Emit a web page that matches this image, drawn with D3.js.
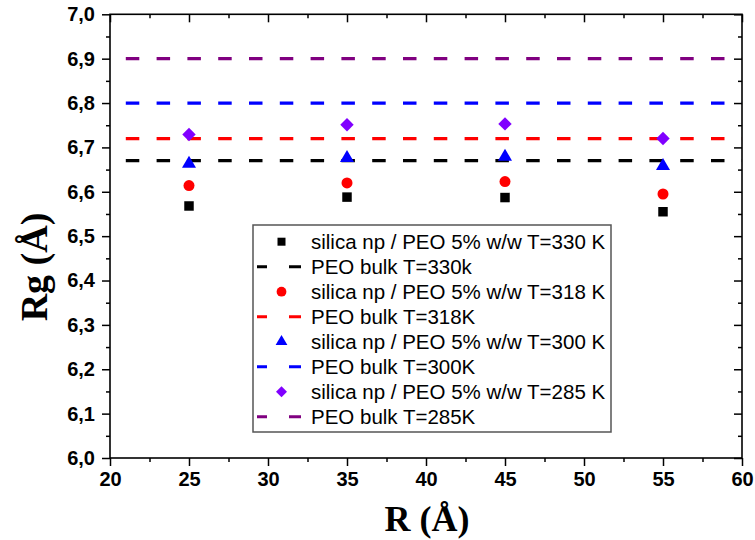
<!DOCTYPE html>
<html><head><meta charset="utf-8">
<script src="https://cdn.jsdelivr.net/npm/d3@7/dist/d3.min.js"></script>
<style>body{margin:0;background:#fff}svg{display:block}</style>
</head><body>
<svg id="c" width="755" height="540"></svg>
<script>
// ---- data ----
const radii = [25, 35, 45, 55];
const rg330 = [6.568, 6.588, 6.587, 6.555];
const rg318 = [6.614, 6.620, 6.623, 6.595];
const rg300 = [6.663, 6.676, 6.679, 6.658];
const rg285 = [6.729, 6.751, 6.753, 6.720];
const bulkValues = [6.67, 6.72, 6.80, 6.90];
const bulkStart = 21;
const bulkEnd = 60;
const seriesLabels = ["silica np / PEO 5% w/w T=330 K", "silica np / PEO 5% w/w T=318 K",
                      "silica np / PEO 5% w/w T=300 K", "silica np / PEO 5% w/w T=285 K"];
const bulkLabels = ["PEO bulk T=330k", "PEO bulk T=318K", "PEO bulk T=300K", "PEO bulk T=285K"];
const xTicks = [20, 25, 30, 35, 40, 45, 50, 55, 60];
const xTickLabels = ["20", "25", "30", "35", "40", "45", "50", "55", "60"];
const xMinor = [22.5, 27.5, 32.5, 37.5, 42.5, 47.5, 52.5, 57.5];
const yTicks = [6.0, 6.1, 6.2, 6.3, 6.4, 6.5, 6.6, 6.7, 6.8, 6.9, 7.0];
const yTickLabels = ["6,0","6,1","6,2","6,3","6,4","6,5","6,6","6,7","6,8","6,9","7,0"];
const yMinor = [6.05, 6.15, 6.25, 6.35, 6.45, 6.55, 6.65, 6.75, 6.85, 6.95];

// ---- styles ----
const markerColors = ["#000000", "#ff0000", "#0000ff", "#8000ff"];
const lineColors = ["#000000", "#ff0000", "#0000ff", "#800080"];
const markerTypes = ["square", "circle", "triangle", "diamond"];
const series = [rg330, rg318, rg300, rg285];

const svg = d3.select("#c");
const L = 110, R = 742, T = 14.3, B = 458;
const x = d3.scaleLinear().domain([20, 60]).range([L, R]);
const y = d3.scaleLinear().domain([6, 7]).range([B, T]);

function symPath(type, size) {
  const map = {square: d3.symbolSquare, circle: d3.symbolCircle, triangle: d3.symbolTriangle, diamond: d3.symbolSquare};
  return d3.symbol().type(map[type]).size(size)();
}
const symSize = {square: 90, circle: 95, triangle: 85, diamond: 90};

// bulk dashed lines
const gl = svg.append("g");
bulkValues.forEach((v, i) => {
  gl.append("line")
    .attr("x1", x(bulkStart)).attr("x2", x(bulkEnd))
    .attr("y1", y(v)).attr("y2", y(v))
    .attr("stroke", lineColors[i]).attr("stroke-width", 3.2)
    .attr("stroke-dasharray", "13.5 17.3");
});

// markers
const gm = svg.append("g");
series.forEach((vals, i) => {
  const t = markerTypes[i];
  gm.selectAll(null).data(vals).enter().append("path")
    .attr("d", symPath(t, symSize[t]))
    .attr("transform", (d, j) => `translate(${x(radii[j])},${y(d)})` + (t === "diamond" ? " rotate(45)" : ""))
    .attr("fill", markerColors[i]);
});

// axes
const axisStyle = g => {
  g.selectAll("path.domain").remove();
  g.selectAll("line").attr("stroke", "#000").attr("stroke-width", 1.5);
};
const tickFont = g => g.selectAll("text")
  .attr("font-family", "'Liberation Sans', Arial, sans-serif")
  .attr("font-weight", "bold").attr("font-size", 20).attr("fill", "#000");

svg.append("g").attr("transform", `translate(0,${B})`)
  .call(d3.axisBottom(x).tickValues(xTicks).tickFormat((d, i) => xTickLabels[i]).tickSize(8).tickPadding(6))
  .call(axisStyle).call(tickFont);
svg.append("g").attr("transform", `translate(0,${B})`)
  .call(d3.axisBottom(x).tickValues(xMinor).tickFormat("").tickSize(4)).call(axisStyle);
svg.append("g").attr("transform", `translate(0,${T})`)
  .call(d3.axisTop(x).tickValues(xTicks).tickFormat("").tickSize(-8)).call(axisStyle);
svg.append("g").attr("transform", `translate(0,${T})`)
  .call(d3.axisTop(x).tickValues(xMinor).tickFormat("").tickSize(-4)).call(axisStyle);

svg.append("g").attr("transform", `translate(${L},0)`)
  .call(d3.axisLeft(y).tickValues(yTicks).tickFormat((d, i) => yTickLabels[i]).tickSize(8).tickPadding(7))
  .call(axisStyle).call(tickFont);
svg.append("g").attr("transform", `translate(${L},0)`)
  .call(d3.axisLeft(y).tickValues(yMinor).tickFormat("").tickSize(4)).call(axisStyle);
svg.append("g").attr("transform", `translate(${R},0)`)
  .call(d3.axisRight(y).tickValues(yTicks).tickFormat("").tickSize(-8)).call(axisStyle);
svg.append("g").attr("transform", `translate(${R},0)`)
  .call(d3.axisRight(y).tickValues(yMinor).tickFormat("").tickSize(-4)).call(axisStyle);

// frame
svg.append("rect").attr("x", L).attr("y", T).attr("width", R - L).attr("height", B - T)
  .attr("fill", "none").attr("stroke", "#000").attr("stroke-width", 1.6);

// axis titles
svg.append("text").attr("x", (L + R) / 2 + 1).attr("y", 531)
  .attr("text-anchor", "middle")
  .attr("font-family", "'Liberation Serif', 'Times New Roman', serif")
  .attr("font-weight", "bold").attr("font-size", 36).text("R (Å)");
svg.append("text")
  .attr("transform", "translate(47,267) rotate(-90)")
  .attr("text-anchor", "middle")
  .attr("font-family", "'Liberation Serif', 'Times New Roman', serif")
  .attr("font-weight", "bold").attr("font-size", 38).text("Rg (Å)");

// legend
const lg = svg.append("g");
lg.append("rect").attr("x", 253).attr("y", 225).attr("width", 358).attr("height", 207)
  .attr("fill", "#fff").attr("stroke", "#555").attr("stroke-width", 1.5);
const legendItems = [];
series.forEach((s, i) => {
  legendItems.push({kind: "marker", i, label: seriesLabels[i]});
  legendItems.push({kind: "line", i, label: bulkLabels[i]});
});
const legSym = {square: 64, circle: 75, triangle: 60, diamond: 60};
legendItems.forEach((it, k) => {
  const cy = 241.7 + k * 25;
  if (it.kind === "marker") {
    const t = markerTypes[it.i];
    lg.append("path").attr("d", symPath(t, legSym[t]))
      .attr("transform", `translate(281.5,${cy})` + (t === "diamond" ? " rotate(45)" : ""))
      .attr("fill", markerColors[it.i]);
  } else {
    lg.append("line").attr("x1", 257).attr("x2", 301).attr("y1", cy).attr("y2", cy)
      .attr("stroke", lineColors[it.i]).attr("stroke-width", 3)
      .attr("stroke-dasharray", "10 22 12");
  }
  lg.append("text").attr("x", 311).attr("y", cy).attr("dy", "0.36em")
    .attr("font-family", "'Liberation Sans', Arial, sans-serif")
    .attr("font-size", 20.5).attr("fill", "#000").text(it.label);
});
</script>
</body></html>
